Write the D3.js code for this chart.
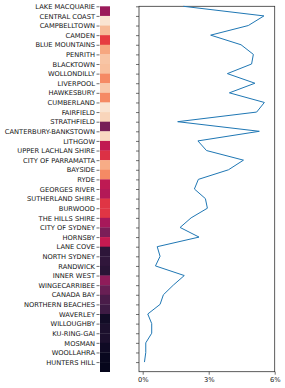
<!DOCTYPE html>
<html><head><meta charset="utf-8">
<script src="https://cdn.jsdelivr.net/npm/d3@7"></script>
<style>body{margin:0;background:#fff}svg{display:block}text{font-family:"DejaVu Sans",sans-serif}</style>
</head><body><svg id="c" width="285" height="388"></svg>
<script>
const councils = ["LAKE MACQUARIE","CENTRAL COAST","CAMPBELLTOWN","CAMDEN","BLUE MOUNTAINS","PENRITH","BLACKTOWN","WOLLONDILLY","LIVERPOOL","HAWKESBURY","CUMBERLAND","FAIRFIELD","STRATHFIELD","CANTERBURY-BANKSTOWN","LITHGOW","UPPER LACHLAN SHIRE","CITY OF PARRAMATTA","BAYSIDE","RYDE","GEORGES RIVER","SUTHERLAND SHIRE","BURWOOD","THE HILLS SHIRE","CITY OF SYDNEY","HORNSBY","LANE COVE","NORTH SYDNEY","RANDWICK","INNER WEST","WINGECARRIBEE","CANADA BAY","NORTHERN BEACHES","WAVERLEY","WILLOUGHBY","KU-RING-GAI","MOSMAN","WOOLLAHRA","HUNTERS HILL"];
// heatmap intensity (0..1 on rocket colormap)
const heatValues = [0.42,0.98,0.88,0.63,0.84,0.90,0.89,0.78,0.91,0.78,0.98,0.94,0.33,0.95,0.52,0.60,0.85,0.78,0.51,0.48,0.61,0.61,0.45,0.34,0.53,0.13,0.14,0.12,0.39,0.29,0.21,0.18,0.05,0.08,0.08,0.04,0.02,0.01];
// line series (percent)
const lineValues = [1.85,5.51,4.80,3.09,4.47,5.03,4.95,3.85,5.10,3.94,5.53,5.18,1.59,5.30,2.51,2.90,4.58,3.90,2.53,2.35,2.85,2.94,2.20,1.70,2.56,0.66,0.79,0.58,1.89,1.39,0.94,0.79,0.23,0.41,0.41,0.14,0.14,0.08];
const xTicks = [0,3,6];
const rocketStops = ["#03051A","#1F1130","#3F1B44","#611F53","#841E5A","#A9185A","#CB1B4F","#E83F3F","#F3704F","#F69C73","#F8C9AA","#FAEBDD"];

const svg = d3.select("#c");
const n = councils.length;
const y = d3.scaleLinear().domain([0, n]).range([6.3, 371.7]);
const color = d3.scaleLinear().domain(rocketStops.map((_, i) => i / (rocketStops.length - 1))).range(rocketStops).interpolate(d3.interpolateRgb);

// heatmap
const hx0 = 100, hx1 = 110;
svg.append("g").selectAll("rect").data(heatValues).join("rect")
  .attr("x", hx0).attr("width", hx1 - hx0)
  .attr("y", (d, i) => y(i)).attr("height", (d, i) => y(i + 1) - y(i) + 0.3)
  .attr("fill", d => color(d));
const yAxisH = d3.axisLeft(y).tickValues(d3.range(n)).tickFormat(i => councils[i]).tickSize(3).tickPadding(1.5);
const gh = svg.append("g").attr("transform", `translate(${hx0 - 0.5},0)`).call(yAxisH);
gh.select(".domain").remove();
gh.selectAll("text").attr("font-size", 6.7).attr("fill", "#111").attr("font-family", "DejaVu Sans");
gh.selectAll("line").attr("stroke", "#333").attr("stroke-width", 0.7);

// line chart
const lx0 = 139, lx1 = 274.7;
const x = d3.scaleLinear().domain([-0.168, 6]).range([lx0, lx1]);
svg.append("rect").attr("x", lx0).attr("y", y(0)).attr("width", lx1 - lx0).attr("height", y(n) - y(0))
  .attr("fill", "none").attr("stroke", "#333").attr("stroke-width", 0.8);
const gy = svg.append("g").attr("transform", `translate(${lx0},0)`)
  .call(d3.axisLeft(y).tickValues(d3.range(n)).tickFormat("").tickSize(3));
gy.select(".domain").remove();
gy.selectAll("line").attr("stroke", "#333").attr("stroke-width", 0.7);
const gx = svg.append("g").attr("transform", `translate(0,${y(n)})`)
  .call(d3.axisBottom(x).tickValues(xTicks).tickFormat(d => d + "%").tickSize(3).tickPadding(2.5));
gx.select(".domain").remove();
gx.selectAll("line").attr("stroke", "#333").attr("stroke-width", 0.7);
gx.selectAll("text").attr("font-size", 6.7).attr("fill", "#111").attr("font-family", "DejaVu Sans");

svg.append("path").datum(lineValues)
  .attr("d", d3.line().x(d => x(d)).y((d, i) => y(i)))
  .attr("fill", "none").attr("stroke", "#1f77b4").attr("stroke-width", 1);
</script></body></html>
